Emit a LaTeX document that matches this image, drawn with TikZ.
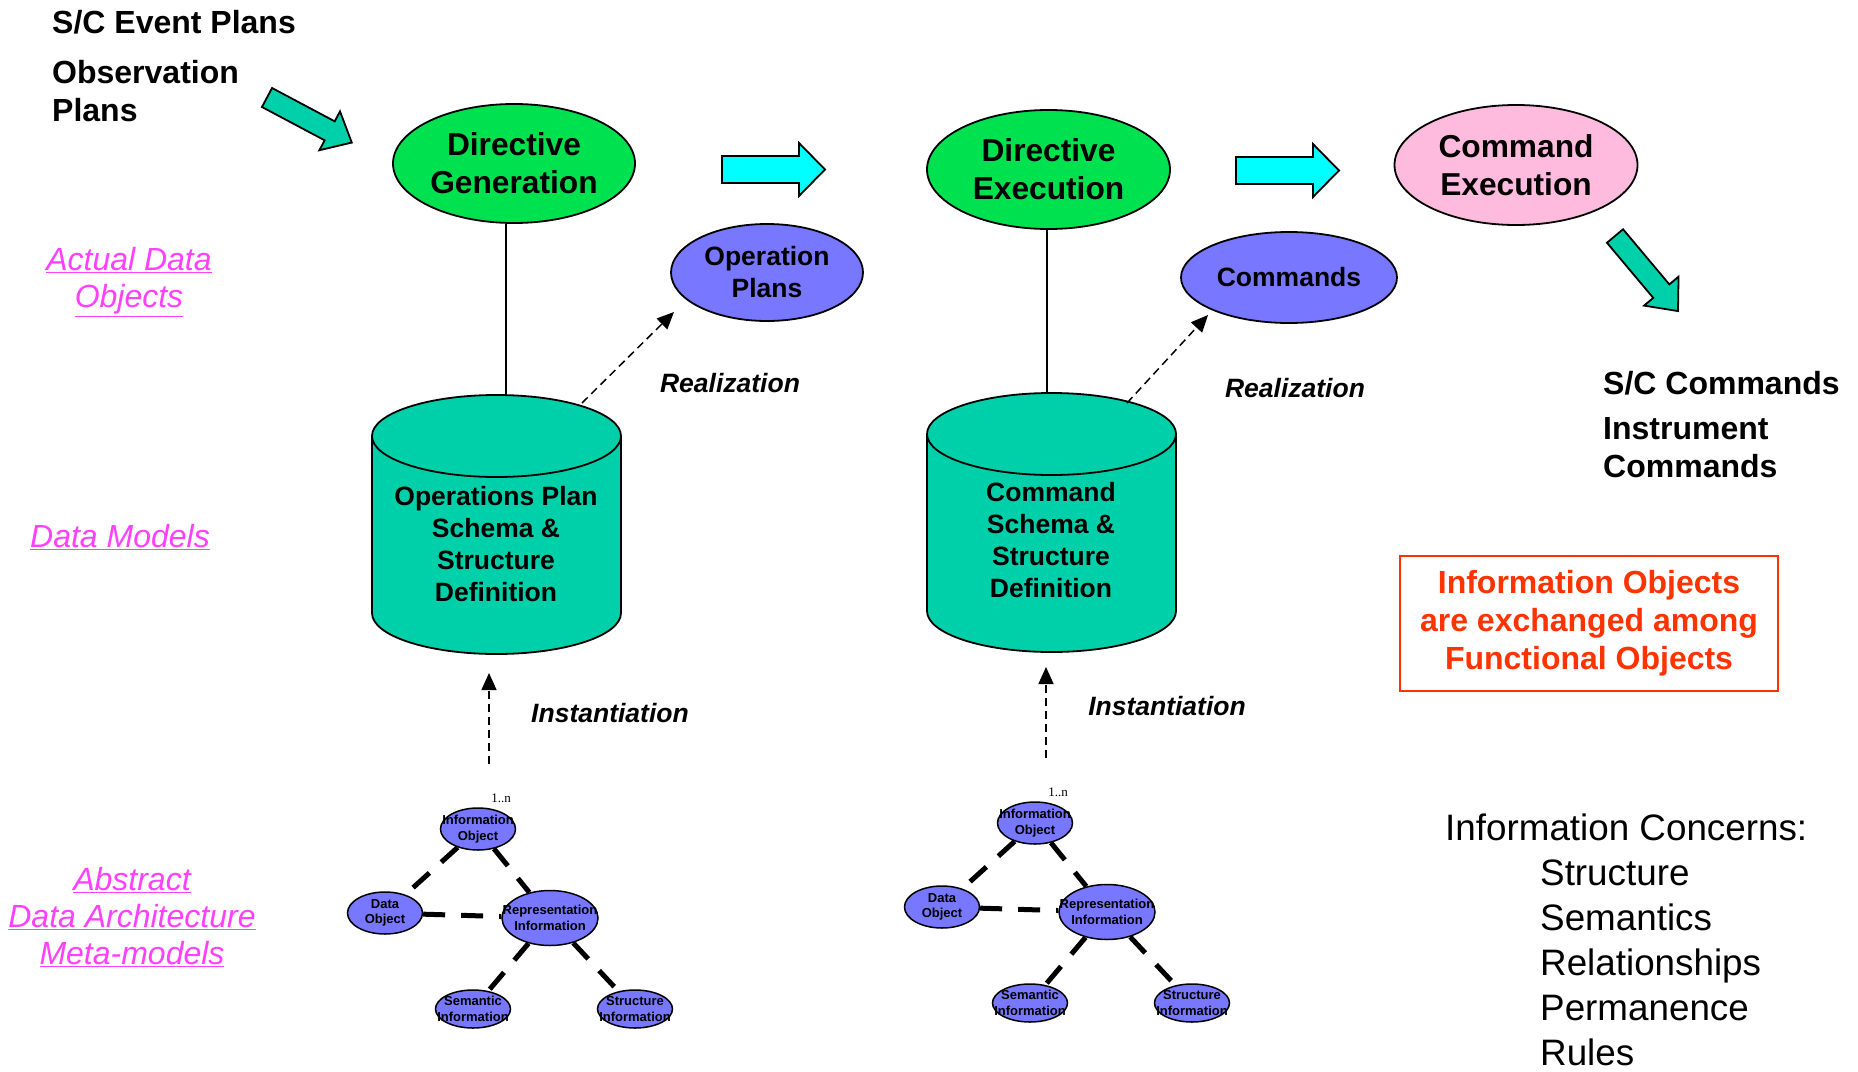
\documentclass[tikz,border=0pt]{standalone}
\usepackage{fontspec}
\setmainfont{Liberation Sans}
\newfontfamily\seriffont{Liberation Serif}
\usetikzlibrary{shapes.geometric,arrows.meta}
\definecolor{dgreen}{RGB}{0,225,80}
\definecolor{pinkc}{RGB}{255,187,221}
\definecolor{pblue}{RGB}{119,119,255}
\definecolor{tealc}{RGB}{0,208,170}
\definecolor{cyanc}{RGB}{0,255,255}
\definecolor{magc}{RGB}{255,64,255}
\definecolor{redc}{RGB}{255,51,0}
\tikzset{
 ell/.style={ellipse, draw, line width=1.8pt, inner sep=0pt, align=center},
 bigtxt/.style={font=\bfseries\fontsize{31.7}{38}\selectfont},
 midtxt/.style={font=\bfseries\fontsize{26.5}{32}\selectfont},
 mmtxt/.style={font=\bfseries\fontsize{13}{15.5}\selectfont, align=center, inner sep=0pt},
 mmell/.style={ellipse, draw, line width=1.5pt, fill=pblue, inner sep=0pt},
 mmdash/.style={line width=5pt, dash pattern=on 22pt off 16pt},
 dasharrow/.style={line width=1.5pt, dash pattern=on 8pt off 5pt, -{Triangle[length=17pt,width=15pt]}},
 ital/.style={font=\bfseries\itshape\fontsize{26.5}{32}\selectfont},
 mag/.style={font=\itshape\fontsize{32}{37}\selectfont, text=magc, align=center},
 plaintxt/.style={font=\bfseries\fontsize{32}{38}\selectfont, inner sep=0pt, align=left},
 listtxt/.style={font=\fontsize{36.8}{45}\selectfont, inner sep=0pt, align=left},
}
\newcommand\drawcyl[5]{%
 \filldraw[fill=tealc, line width=1.8pt] (#1,#3) ellipse [x radius=#4pt, y radius=#5pt];
 \fill[tealc] (#1-#4,#2) rectangle (#1+#4,#3);
 \draw[line width=1.8pt] (#1-#4,#2) -- (#1-#4,#3) (#1+#4,#2) -- (#1+#4,#3);
 \filldraw[fill=tealc, line width=1.8pt] (#1,#2) ellipse [x radius=#4pt, y radius=#5pt];
}
\newcommand\blockarrow[8]{%
 \begin{scope}[shift={(#1,#2)}, rotate=#3]
 \filldraw[fill=#8, line width=1.8pt, line join=miter]
 (0,#5/2) -- (#4-#7,#5/2) -- (#4-#7,#6/2) -- (#4,0) -- (#4-#7,-#6/2) -- (#4-#7,-#5/2) -- (0,-#5/2) -- cycle;
 \end{scope}}
\newcommand\metamodel[3]{%
 \begin{scope}[shift={(#1,#2)}]
 \node[font=\seriffont\fontsize{13}{15}\selectfont, inner sep=0pt] (#3n) at (501,798) {1..n};
 \node[mmell, minimum width=75pt, minimum height=42pt] (#3io) at (478,829) {};
 \node[mmell, minimum width=75pt, minimum height=42pt] (#3do) at (385,913) {};
 \node[mmell, minimum width=96pt, minimum height=55pt] (#3ri) at (550,918) {};
 \node[mmell, minimum width=75pt, minimum height=38pt] (#3si) at (473,1009) {};
 \node[mmell, minimum width=75pt, minimum height=38pt] (#3st) at (635,1009) {};
 \node[mmtxt] (#3iot) at (#3io) {Information\\Object};
 \node[mmtxt] (#3dot) at (#3do) {Data\\Object};
 \node[mmtxt] (#3rit) at (#3ri) {Representation\\Information};
 \node[mmtxt] (#3sit) at (#3si) {Semantic\\Information};
 \node[mmtxt] (#3stt) at (#3st) {Structure\\Information};
 \draw[mmdash] (#3io) -- (#3do);
 \draw[mmdash] (#3io) -- (#3ri);
 \draw[mmdash] (#3do) -- (#3ri);
 \draw[mmdash] (#3ri) -- (#3si);
 \draw[mmdash] (#3ri) -- (#3st);
 \end{scope}}
\begin{document}
\begin{tikzpicture}[x=1pt,y=-1pt]
\fill[white] (0,0) rectangle (1858,1071);
\useasboundingbox (0,0) rectangle (1858,1071);

% top-left texts
\node[plaintxt, anchor=base west] (sce) at (52,33) {S/C Event Plans};
\node[plaintxt, anchor=west] (obs) at (52,91) {Observation\\Plans};

% block arrows
\blockarrow{267}{97.5}{-28}{96}{21.5}{44}{25}{tealc}
\blockarrow{722}{169.5}{0}{103}{27}{53}{26}{cyanc}
\blockarrow{1236}{170.5}{0}{103}{27}{53}{26}{cyanc}
\blockarrow{1615}{236}{-50}{98}{21}{45}{26}{tealc}

% functional objects
\node[ell, fill=dgreen, minimum width=242pt, minimum height=119pt, bigtxt] (dg) at (514,163.5) {Directive\\Generation};
\node[ell, fill=dgreen, minimum width=243pt, minimum height=119pt, bigtxt] (de) at (1048.5,169.5) {Directive\\Execution};
\node[ell, fill=pinkc, minimum width=243pt, minimum height=120pt, bigtxt] (ce) at (1516,165) {Command\\Execution};

% data objects
\node[ell, fill=pblue, minimum width=192pt, minimum height=97pt, midtxt] (op) at (767,272.5) {Operation\\Plans};
\node[ell, fill=pblue, minimum width=216pt, minimum height=91pt, midtxt] (cm) at (1289,277.5) {Commands};

% cylinders
\drawcyl{496.5}{436}{613}{124.5}{41}
\drawcyl{1051.5}{434}{611}{124.5}{41}
\node[midtxt, align=center] (cyl1) at (496,544) {Operations Plan\\Schema \&\\Structure\\Definition};
\node[midtxt, align=center] (cyl2) at (1051,540) {Command\\Schema \&\\Structure\\Definition};
\coordinate (ctop1) at (506,395);
\coordinate (ctop2) at (1047,393);
\draw[line width=1.5pt] (dg.south -| ctop1) -- (ctop1);
\draw[line width=1.5pt] (de.south -| ctop2) -- (ctop2);

% realization
\coordinate (r1s) at (582,403);
\coordinate (r1e) at (674,312);
\coordinate (r2s) at (1127,403);
\coordinate (r2e) at (1208,315);
\draw[dasharrow] (r1s) -- (r1e);
\draw[dasharrow] (r2s) -- (r2e);
\node[ital] (rl1) at (730,383) {Realization};
\node[ital] (rl2) at (1295,388) {Realization};

% instantiation
\coordinate (i1s) at (489,764);
\coordinate (i1e) at (489,673);
\coordinate (i2s) at (1046,758);
\coordinate (i2e) at (1046,667);
\draw[dasharrow] (i1s) -- (i1e);
\draw[dasharrow] (i2s) -- (i2e);
\node[ital] (il1) at (610,713) {Instantiation};
\node[ital] (il2) at (1167,706) {Instantiation};

% meta-models
\metamodel{0}{0}{a}
\metamodel{557}{-6}{b}

% left magenta labels
\node[mag] (ado) at (129,282) {\underline{Actual Data}\\\underline{Objects}};
\node[mag] (dm) at (120,537) {\underline{Data Models}};
\node[mag] (ada) at (132,917) {\underline{Abstract}\\\underline{Data Architecture}\\\underline{Meta-models}};

% right texts
\node[plaintxt, anchor=base west] (scc) at (1603,394) {S/C Commands};
\node[plaintxt, anchor=west] (ic) at (1603,448) {Instrument\\Commands};
\node[draw=redc, line width=2pt, minimum width=378pt, minimum height=135pt, font=\bfseries\fontsize{32}{38}\selectfont, text=redc, align=center] (ex) at (1589,623.5) {Information Objects\\are exchanged among\\Functional Objects};
\node[listtxt, anchor=base west] (conc) at (1445,840) {Information Concerns:};
\node[listtxt, anchor=west] (cl) at (1540,963) {Structure\\Semantics\\Relationships\\Permanence\\Rules};
\end{tikzpicture}
\end{document}
